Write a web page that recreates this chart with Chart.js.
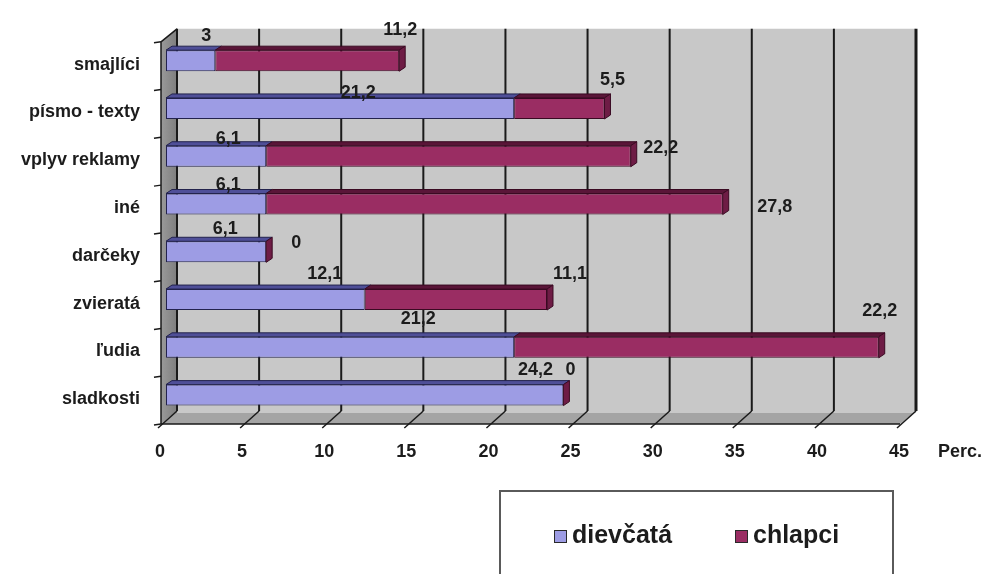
<!DOCTYPE html>
<html>
<head>
<meta charset="utf-8">
<script src="https://cdn.jsdelivr.net/npm/chart.js@4.4.1/dist/chart.umd.min.js"></script>
<style>
  html, body { margin: 0; padding: 0; background: #fff; }
  #wrap { position: relative; width: 986px; height: 574px; }
</style>
</head>
<body>
<div id="wrap"><canvas id="barChart" width="986" height="574"></canvas></div>
<script>
// Data
const categories = ['smajlíci', 'písmo - texty', 'vplyv reklamy', 'iné', 'darčeky', 'zvieratá', 'ľudia', 'sladkosti'];
const dievcata = [3, 21.2, 6.1, 6.1, 6.1, 12.1, 21.2, 24.2];
const chlapci = [11.2, 5.5, 22.2, 27.8, 0, 11.1, 22.2, 0];
const seriesNames = ['dievčatá', 'chlapci'];
const xMax = 45;
const xStep = 5;
const axisUnit = 'Perc.';

// label nudges in px from the end of each segment
const girlsLabelShift = [[-9, -25], [-156, -15], [-38, -17], [-38, -19], [-41, -23], [-40, -26], [-96, -28], [-28, -25]];
const boysLabelShift = [[1, -31], [8, -28], [30, -8], [52, 3], [30, -9], [23, -26], [1, -36], [7, -25]];

const FONT = "'Liberation Sans', Arial, sans-serif";
const TEXT = '#1c1c1c';

// 3D box offsets relative to the bar plane
const FRONT = { dx: -5, dy: 5 };
const BACK = { dx: 11, dy: -8 };
const BAR_DEPTH = { dx: 6, dy: -4 };

const faces = [
  { front: '#9d9ce4', top: '#4f4f98', cap: '#5c5ca8', line: '#23234d' },
  { front: '#9a2d63', top: '#5a1538', cap: '#6e1c45', line: '#3a0a22' }
];

function fmt(v) {
  return String(v).replace('.', ',');
}

function poly(ctx, pts, fill, stroke, lw) {
  ctx.beginPath();
  ctx.moveTo(pts[0][0], pts[0][1]);
  for (let i = 1; i < pts.length; i++) ctx.lineTo(pts[i][0], pts[i][1]);
  ctx.closePath();
  if (fill) { ctx.fillStyle = fill; ctx.fill(); }
  if (stroke) { ctx.strokeStyle = stroke; ctx.lineWidth = lw || 1; ctx.stroke(); }
}

// Back wall, left wall, floor and gridlines
const walls = {
  id: 'walls',
  beforeDatasetsDraw(chart) {
    const { ctx, chartArea: a, scales: { x } } = chart;
    const L = a.left, R = a.right, T = a.top, B = a.bottom;
    ctx.save();
    // back wall
    poly(ctx, [[L + BACK.dx, T + BACK.dy], [R + BACK.dx, T + BACK.dy], [R + BACK.dx, B + BACK.dy], [L + BACK.dx, B + BACK.dy]], '#c8c8c8');
    // left wall
    const lw = ctx.createLinearGradient(L + FRONT.dx, 0, L + BACK.dx, 0);
    lw.addColorStop(0, '#9a9a9a');
    lw.addColorStop(1, '#7e7e7e');
    poly(ctx, [[L + FRONT.dx, T + FRONT.dy], [L + BACK.dx, T + BACK.dy], [L + BACK.dx, B + BACK.dy], [L + FRONT.dx, B + FRONT.dy]], lw);
    // floor
    poly(ctx, [[L + FRONT.dx, B + FRONT.dy], [L + BACK.dx, B + BACK.dy], [R + BACK.dx, B + BACK.dy], [R + FRONT.dx, B + FRONT.dy]], '#a4a4a4');
    ctx.strokeStyle = '#d4d4d4';
    ctx.lineWidth = 1.5;
    ctx.beginPath();
    ctx.moveTo(L + BACK.dx, B + BACK.dy + 1);
    ctx.lineTo(R + BACK.dx, B + BACK.dy + 1);
    ctx.stroke();

    // gridlines: up the back wall, diagonally across the floor
    ctx.strokeStyle = '#1a1a1a';
    for (let v = 0; v <= xMax; v += xStep) {
      const px = x.getPixelForValue(v);
      const xb = px + BACK.dx, xf = px + FRONT.dx;
      ctx.lineWidth = (v === xMax) ? 3 : 2;
      ctx.beginPath();
      ctx.moveTo(xb, T + BACK.dy);
      ctx.lineTo(xb, B + BACK.dy);
      ctx.stroke();
      ctx.lineWidth = 1.5;
      ctx.beginPath();
      ctx.moveTo(xb, B + BACK.dy);
      ctx.lineTo(xf - 3, B + FRONT.dy + 4);
      ctx.stroke();
    }

    // left wall edges and category ticks
    ctx.lineWidth = 1.5;
    ctx.beginPath();
    ctx.moveTo(L + FRONT.dx, T + FRONT.dy);
    ctx.lineTo(L + BACK.dx, T + BACK.dy);
    ctx.moveTo(L + FRONT.dx, T + FRONT.dy);
    ctx.lineTo(L + FRONT.dx, B + FRONT.dy);
    ctx.moveTo(L + FRONT.dx, B + FRONT.dy);
    ctx.lineTo(R + FRONT.dx, B + FRONT.dy);
    ctx.stroke();
    const slot = (B - T) / categories.length;
    ctx.lineWidth = 1.5;
    for (let i = 0; i <= categories.length; i++) {
      const yy = T + FRONT.dy + i * slot;
      ctx.beginPath();
      ctx.moveTo(L + FRONT.dx - 7, yy + 1);
      ctx.lineTo(L + FRONT.dx, yy);
      ctx.stroke();
    }
    ctx.restore();
  }
};

// Top faces and end caps of the bars
const bars3d = {
  id: 'bars3d',
  afterDatasetsDraw(chart) {
    const { ctx } = chart;
    ctx.save();
    ctx.lineWidth = 1;
    chart.data.datasets.forEach((ds, di) => {
      const f = faces[di];
      chart.getDatasetMeta(di).data.forEach((bar) => {
        const { x, y, base, height } = bar.getProps(['x', 'y', 'base', 'height'], true);
        const top = y - height / 2, bot = y + height / 2;
        const d = BAR_DEPTH;
        if (x > base) {
          poly(ctx, [[base, top], [base + d.dx, top + d.dy], [x + d.dx, top + d.dy], [x, top]], f.top, f.line);
        }
        if (di === chart.data.datasets.length - 1) {
          poly(ctx, [[x, top], [x + d.dx, top + d.dy], [x + d.dx, bot + d.dy], [x, bot]], f.cap, f.line);
        }
      });
    });
    ctx.restore();
  }
};

// Value labels next to each segment
const valueLabels = {
  id: 'valueLabels',
  afterDatasetsDraw(chart) {
    const { ctx } = chart;
    const shifts = [girlsLabelShift, boysLabelShift];
    ctx.save();
    ctx.font = 'bold 18px ' + FONT;
    ctx.fillStyle = TEXT;
    ctx.textAlign = 'center';
    ctx.textBaseline = 'middle';
    chart.data.datasets.forEach((ds, di) => {
      chart.getDatasetMeta(di).data.forEach((bar, i) => {
        const { x, y } = bar.getProps(['x', 'y'], true);
        const s = shifts[di][i];
        ctx.fillText(fmt(ds.data[i]), x + s[0], y + s[1]);
      });
    });
    ctx.restore();
  }
};

// Unit label and the boxed legend
const extras = {
  id: 'extras',
  afterDraw(chart) {
    const { ctx, chartArea: a } = chart;
    ctx.save();
    ctx.font = 'bold 18px ' + FONT;
    ctx.fillStyle = TEXT;
    ctx.textAlign = 'left';
    ctx.textBaseline = 'middle';
    ctx.fillText(axisUnit, a.right + 33, 452);

    // legend box
    ctx.strokeStyle = '#5a5a5a';
    ctx.lineWidth = 2;
    ctx.strokeRect(500, 491, 393, 100);
    ctx.font = 'bold 25px ' + FONT;
    const items = [{ x: 554 }, { x: 735 }];
    chart.data.datasets.forEach((ds, i) => {
      const sx = items[i].x;
      ctx.fillStyle = ds.backgroundColor;
      ctx.fillRect(sx, 530, 13, 13);
      ctx.strokeStyle = '#2a2a2a';
      ctx.lineWidth = 1;
      ctx.strokeRect(sx + 0.5, 530.5, 12, 12);
      ctx.fillStyle = TEXT;
      ctx.fillText(ds.label, sx + 18, 536);
    });
    ctx.restore();
  }
};

const ctx = document.getElementById('barChart').getContext('2d');
new Chart(ctx, {
  type: 'bar',
  data: {
    labels: categories,
    datasets: [{
      label: seriesNames[0],
      data: dievcata,
      backgroundColor: faces[0].front,
      borderColor: faces[0].line,
      borderWidth: 1,
      borderSkipped: false
    }, {
      label: seriesNames[1],
      data: chlapci,
      backgroundColor: faces[1].front,
      borderColor: faces[1].line,
      borderWidth: 1,
      borderSkipped: false
    }]
  },
  options: {
    indexAxis: 'y',
    responsive: false,
    animation: false,
    devicePixelRatio: 1,
    datasets: {
      bar: { categoryPercentage: 1, barPercentage: 0.44 }
    },
    layout: { padding: { top: 29, right: 81, left: 0, bottom: 0 } },
    scales: {
      x: {
        stacked: true,
        min: 0,
        max: xMax,
        afterFit: (s) => { s.height = 155; },
        grid: { display: false, drawTicks: false },
        border: { display: false },
        ticks: {
          stepSize: xStep,
          padding: 22,
          labelOffset: -6,
          color: TEXT,
          font: { family: FONT, size: 18, weight: 'bold' }
        }
      },
      y: {
        stacked: true,
        afterFit: (s) => { s.width = 166; },
        grid: { display: false, drawTicks: false },
        border: { display: false },
        ticks: {
          padding: 26,
          labelOffset: 4,
          color: TEXT,
          font: { family: FONT, size: 18, weight: 'bold' }
        }
      }
    },
    plugins: {
      legend: { display: false },
      tooltip: { enabled: false }
    }
  },
  plugins: [walls, bars3d, valueLabels, extras]
});
</script>
</body>
</html>
